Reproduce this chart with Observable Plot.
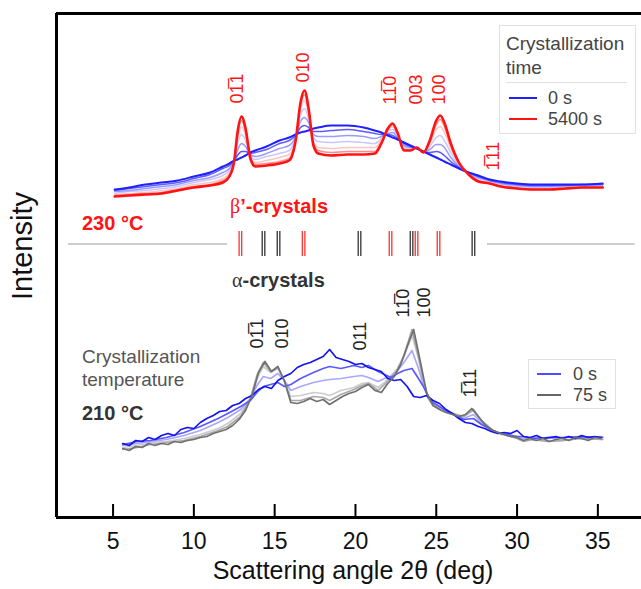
<!DOCTYPE html>
<html><head><meta charset="utf-8">
<script src="https://cdn.jsdelivr.net/npm/d3@7"></script>
<script src="https://cdn.jsdelivr.net/npm/@observablehq/plot@0.6"></script>
<style>
body{margin:0;background:#fff;font-family:"Liberation Sans",Arial,sans-serif;}
#wrap{position:relative;width:641px;height:589px;overflow:hidden;background:#fff}
.ann{position:absolute;white-space:nowrap}
.box{position:absolute;border:1px solid #e0e0e0;background:#fff;box-sizing:border-box}
.sw{position:absolute;height:0}
.gk{font-family:"Liberation Serif","DejaVu Serif",serif;font-weight:normal}
</style></head><body><div id="wrap"></div>
<script>
// ---------- upper panel: 230 °C, crystallization time series ----------
const topAngle = [5.1,6,7,8,9,10,11,11.8,12.2,12.5,12.7,12.95,13.2,13.5,13.8,14.5,15.3,15.9,16.3,16.6,16.85,17.1,17.4,17.7,18.5,19.5,20.5,21.2,21.6,22.0,22.3,22.6,23.0,23.4,23.8,24.2,24.6,25.0,25.25,25.5,25.9,26.4,27,27.6,28.3,29,30,31,32,33,34,35.3];
const top0s    = [411,413,416,418,420,424,428,434,437,440,441,443,445,448,450,454,460,463,466,468,469,470,472,473,475,475,473,470,468,465,463,461,458,455,452,449,446,443,441,439,436,432,428,425,421,419,417,416,416,416,416,417];
const topT1    = [410,412,414,416,418,422,426,432,435,440,445,449,449,447,448,451,457,460,465,473,475,473,469,469,470,471,469,467,466,466,465,462,457,454,452,449,448,449,448,445,439,433,428,424,420,418,416,415,415,415,416,416];
const topT2    = [409,410,412,414,416,420,423,428,432,440,450,457,454,446,444,447,452,455,464,479,483,478,466,464,464,465,464,462,464,467,468,463,455,453,452,449,451,456,456,453,443,434,427,423,420,417,415,414,414,415,415,416];
const topT3    = [407,409,410,412,414,418,421,425,430,440,456,466,460,445,441,444,447,450,463,485,492,482,463,459,458,459,458,457,462,469,471,465,454,452,453,448,454,463,465,460,448,435,427,422,419,416,414,413,413,414,414,415];
const topT4    = [406,407,408,410,412,416,418,422,427,440,461,474,465,443,438,440,443,446,461,491,500,487,459,453,452,453,453,453,460,470,474,466,452,451,453,448,457,471,474,468,452,437,426,420,418,415,413,412,412,413,414,414];
const topT5    = [405,406,407,408,411,414,416,420,425,440,465,480,469,443,436,437,439,442,461,495,506,490,457,450,448,449,449,449,458,471,476,467,451,450,453,448,459,476,481,474,455,437,426,420,417,414,412,411,411,412,413,413];
const top5400s = [404,405,406,407,410,413,415,418,424,440,468,484,472,442,434,435,437,440,460,498,510,492,455,447,445,446,446,447,457,472,477,468,450,450,453,448,460,480,485,478,457,438,426,419,417,414,412,411,411,412,413,413];
const topNames  = ["T3","T4","T2","T1","0 s","T5","5400 s"];
const topColors = ["#c8c8ff","#ffc4c4","#9a9aff","#5c5cff","#1f1fff","#ff8c8c","#ff1414"];
const topWidths = [1.5,1.5,1.5,1.5,2,1.6,2.6];

// ---------- lower panel: 210 °C ----------
const lowAngle = [5.6,6.5,7.3,8.3,9.4,10.4,11.5,12.1,12.9,13.5,13.9,14.3,14.75,15.2,15.6,16.0,16.6,17.4,18.0,18.4,19.1,19.9,20.4,20.8,21.4,21.8,22.2,22.6,23.0,23.5,23.9,24.2,24.5,24.8,25.7,26.7,27.3,27.8,28.5,29.0,30.0,30.4,31.0,31.9,32.9,33.9,35.3];
const lowT1  = [156,159,160,163,168,174,182,187,194,200,208,214,216,218,214,216,222,228,232,234,232,235,233,235,229,226,223,227,230,232,222,214,204,198,189,181,182,176,170,167,164,164,162,163,163,164,163];
const lowT2  = [155,157,159,161,165,170,178,183,191,202,215,224,222,227,220,210,214,218,220,221,222,224,225,223,219,222,224,230,238,250,232,216,203,197,189,182,186,178,170,167,164,162,163,162,163,163,164];
const lowT3  = [153,155,158,159,162,166,172,177,187,202,222,234,228,232,220,204,205,208,207,205,210,213,217,218,213,218,225,232,244,265,242,220,203,196,189,184,190,179,170,166,163,160,161,159,160,162,161];
const lowT4  = [151,153,156,158,160,164,170,174,184,202,225,238,229,233,219,200,200,204,203,200,206,211,215,217,210,216,223,231,245,271,244,220,202,195,188,184,191,180,170,167,162,159,161,159,160,162,161];
// the 0 s and 75 s traces are read more finely (they are noisy)
const lowAngleFine = [5.6,6.0,6.4,6.8,7.2,7.6,8.0,8.4,8.8,9.2,9.6,10.0,10.4,10.8,11.2,11.6,12.0,12.4,12.8,13.2,13.6,14.0,14.4,14.8,15.2,15.6,16.0,16.4,16.8,17.2,17.6,18.0,18.4,18.8,19.2,19.6,20.0,20.4,20.8,21.2,21.6,22.0,22.4,22.8,23.2,23.6,24.0,24.4,24.8,25.2,25.6,26.0,26.4,26.8,27.2,27.6,28.0,28.4,28.8,29.2,29.6,30.0,30.4,30.8,31.2,31.6,32.0,32.4,32.8,33.2,33.6,34.0,34.4,34.8,35.2];
const low0s  = [157,155,160,159,163,161,165,167,165,171,173,172,178,182,185,189,190,195,197,202,205,211,214,212,220,224,227,233,236,238,241,244,251,243,241,239,236,237,233,231,229,222,220,221,214,204,203,205,200,197,191,187,182,178,177,174,172,169,167,168,167,170,164,163,165,162,163,164,162,164,162,165,163,164,163];
const low75s = [152,150,154,153,157,155,157,156,159,158,160,161,163,164,167,169,171,175,181,190,205,228,239,229,234,220,198,197,199,202,199,201,196,200,204,207,209,213,216,210,208,217,224,236,254,271,240,208,195,191,188,186,184,186,192,184,176,171,168,166,164,163,160,162,160,162,159,161,162,160,163,162,160,163,162];
const lowNames  = ["L3","L4","L2","L1","0 s","75 s"];
const lowColors = ["#cccccc","#a8a8a8","#a8a8ff","#5a5aff","#1414ee","#707070"];

// ---------- reflection positions and labels ----------
const betaRefl  = [12.88,16.79,22.17,23.78,25.14];
const alphaRefl = [14.31,15.24,20.25,23.47,27.3];
const topLabels = ["01\u03051","010","11\u03050","003","100","1\u030511"];
const topLabelX = [12.7,16.78,22.16,23.77,25.19,28.53];
const topLabelY = [497,518,496,496,496,430];
const lowLabels = ["01\u03051","010","011","11\u03050","100","1\u030511"];
const lowLabelX = [13.94,15.49,20.31,22.97,24.27,27.1];
const lowLabelY = [252,252,250,283,283,203];
const xTicks = [5,10,15,20,25,30,35];

// tidy tables built from the arrays
const topSeriesVals = {"0 s":top0s,"T1":topT1,"T2":topT2,"T3":topT3,"T4":topT4,"T5":topT5,"5400 s":top5400s};
const lowSeriesVals = {"0 s":[lowAngleFine,low0s],"L1":[lowAngle,lowT1],"L2":[lowAngle,lowT2],"L3":[lowAngle,lowT3],"L4":[lowAngle,lowT4],"75 s":[lowAngleFine,low75s]};
const topData = topNames.flatMap((n,i)=>topSeriesVals[n].map((v,j)=>({x:topAngle[j],y:v,s:n})));
const lowData = lowNames.flatMap((n,i)=>{const [xs,ys]=lowSeriesVals[n];return ys.map((v,j)=>({x:xs[j],y:v,s:n}));});
const topLab = topLabels.map((t,i)=>({t,x:topLabelX[i],y:topLabelY[i]}));
const lowLab = lowLabels.map((t,i)=>({t,x:lowLabelX[i],y:lowLabelY[i]}));

const marks = [];
topNames.forEach((n,i)=>marks.push(Plot.line(topData.filter(d=>d.s===n),{x:"x",y:"y",stroke:topColors[i],strokeWidth:topWidths[i],curve:"monotone-x"})));
lowNames.forEach((n,i)=>marks.push(Plot.line(lowData.filter(d=>d.s===n),{x:"x",y:"y",stroke:lowColors[i],strokeWidth:1.7})));

// gray reference line and reflection ticks
marks.push(Plot.ruleY([356.5],{x1:2.25,x2:12.08,stroke:"#bbbbbb",strokeWidth:1.5}));
marks.push(Plot.ruleY([356.5],{x1:28.17,x2:37.3,stroke:"#bbbbbb",strokeWidth:1.5}));
for (const dx of [-1.3,1.3]) {
  marks.push(Plot.ruleX(betaRefl,{y1:344,y2:369,stroke:"#ff3030",strokeWidth:1.3,dx}));
  marks.push(Plot.ruleX(alphaRefl,{y1:344,y2:369,stroke:"#333333",strokeWidth:1.3,dx}));
}
// peak labels
marks.push(Plot.text(topLab,{x:"x",y:"y",text:"t",rotate:-90,textAnchor:"start",fill:"#ff1414",fontSize:18}));
marks.push(Plot.text(lowLab,{x:"x",y:"y",text:"t",rotate:-90,textAnchor:"start",fill:"#222",fontSize:18}));

// frame and axes
marks.push(Plot.ruleX([1.5],{stroke:"#000",strokeWidth:3}));
marks.push(Plot.ruleY([587],{stroke:"#000",strokeWidth:3}));
marks.push(Plot.ruleY([83],{stroke:"#000",strokeWidth:3}));
marks.push(Plot.ruleX(xTicks,{y1:83,y2:96,stroke:"#000",strokeWidth:2}));
marks.push(Plot.axisX(xTicks,{tickSize:0,tickPadding:15,fontSize:23,fill:"#111",label:null}));
marks.push(Plot.text(["Scattering angle 2θ (deg)"],{frameAnchor:"bottom",dy:61,dx:4,fontSize:25,fill:"#111"}));

const chart = Plot.plot({
  width:641, height:589,
  marginLeft:56, marginRight:0, marginTop:13, marginBottom:72,
  x:{domain:[1.5,37.7]},
  y:{domain:[83,587], axis:null},
  style:{fontFamily:"'Liberation Sans',Arial,sans-serif",background:"#fff",overflow:"visible"},
  marks
});
const wrap = document.getElementById("wrap");
wrap.appendChild(chart);

function ann(html, left, cy, size, color, bold){
  const d=document.createElement("div"); d.className="ann";
  d.innerHTML=html; d.style.left=left+"px"; d.style.top=(cy-size/2)+"px";
  d.style.fontSize=size+"px"; d.style.lineHeight=size+"px"; d.style.color=color;
  if(bold) d.style.fontWeight="bold";
  wrap.appendChild(d); return d;
}
function box(l,t,w,h){const d=document.createElement("div");d.className="box";Object.assign(d.style,{left:l+"px",top:t+"px",width:w+"px",height:h+"px"});wrap.appendChild(d);}
function sw(l,r,y,c,w){const d=document.createElement("div");d.className="sw";Object.assign(d.style,{left:l+"px",width:(r-l)+"px",top:(y-w/2)+"px",borderTop:w+"px solid "+c});wrap.appendChild(d);}

// y-axis title
const yl = ann("Intensity",0,0,29,"#111");
Object.assign(yl.style,{left:"22px",top:"246px",transform:"translate(-50%,-50%) rotate(-90deg)"});

// upper legend
box(499,25,137,109);
ann("Crystallization",506,43,19,"#444");
ann("time",506,67,19,"#444");
sw(506,627,82,"#e0e0e0",1);
sw(509,537,98,topColors[4],2.5); ann("0 s",548,98,18,"#444");
sw(509,537,119,topColors[6],2.5); ann("5400 s",548,119,18,"#444");
// lower legend
box(528,359,88,50);
sw(537,561,374,"#4d4dff",2); ann("0 s",573,374,18,"#444");
sw(537,561,395,"#666666",2); ann("75 s",573,395,18,"#444");
// annotations
ann("230 °C",82,223,20,"#ff1414",true);
ann('<span class="gk">β</span>’-crystals',230,206,20,"#ff1414",true);
ann('<span class="gk">α</span>-crystals',232,280,20,"#333",true);
ann("Crystallization",82,356,19,"#555");
ann("temperature",82,379,19,"#555");
ann("210 °C",82,413,20,"#333",true);
</script></body></html>
